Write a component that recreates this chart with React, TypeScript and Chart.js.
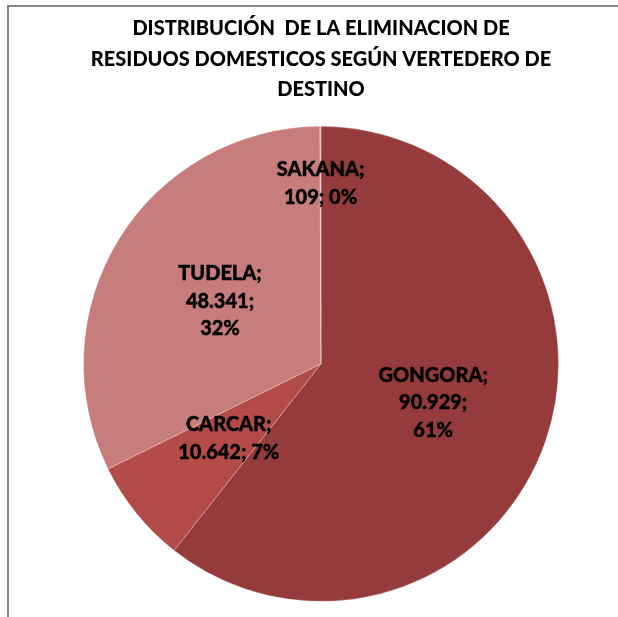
import React, { useEffect, useRef } from "react";
import { Chart, registerables } from "chart.js";

Chart.register(...registerables);

const TITLE_LINES = [
  "DISTRIBUCIÓN  DE LA ELIMINACION DE",
  "RESIDUOS DOMESTICOS SEGÚN VERTEDERO DE",
  "DESTINO",
];
const CATEGORIES = ["GONGORA", "CARCAR", "TUDELA", "SAKANA"];
const VALUES = [90929, 10642, 48341, 109];
const COLORS = ["#963B3B", "#B34B48", "#C77D7C", "#DDB1B0"];

const FONT = "Lato, 'Open Sans', sans-serif";

function fmtThousands(v: number): string {
  return String(v).replace(/\B(?=(\d{3})+(?!\d))/g, ".");
}

const labelPlugin = {
  id: "pieLabels",
  afterDatasetsDraw(chart: any) {
    const ctx = chart.ctx;
    const meta = chart.getDatasetMeta(0);
    const data = chart.data.datasets[0].data as number[];
    const total = data.reduce((a, b) => a + b, 0);
    ctx.save();
    ctx.font = `900 20px ${FONT}`;
    ctx.fillStyle = "#000";
    ctx.strokeStyle = "#000";
    ctx.lineWidth = 0.4;
    ctx.textAlign = "center";
    ctx.textBaseline = "middle";
    const lineH = 27.5;
    const wrapW = 110;
    meta.data.forEach((arc: any, i: number) => {
      const { x, y, startAngle, endAngle, outerRadius } = arc.getProps(
        ["x", "y", "startAngle", "endAngle", "outerRadius"],
        true
      );
      const share = data[i] / total;
      const frac = share < 0.01 ? 0.76 : 0.5;
      const mid = (startAngle + endAngle) / 2;
      const cx = x + Math.cos(mid) * outerRadius * frac;
      const cy = y + Math.sin(mid) * outerRadius * frac;
      const tokens = [
        `${chart.data.labels[i]};`,
        `${fmtThousands(data[i])};`,
        `${Math.round(share * 100)}%`,
      ];
      const lines: string[] = [];
      let cur = "";
      tokens.forEach((t) => {
        const test = cur ? cur + " " + t : t;
        if (cur && ctx.measureText(test).width > wrapW) {
          lines.push(cur);
          cur = t;
        } else {
          cur = test;
        }
      });
      if (cur) lines.push(cur);
      const startY = cy - ((lines.length - 1) * lineH) / 2;
      lines.forEach((l, k) => {
        ctx.fillText(l, cx, startY + k * lineH);
        ctx.strokeText(l, cx, startY + k * lineH);
      });
    });
    ctx.restore();
  },
};

export default function App() {
  const ref = useRef<HTMLCanvasElement | null>(null);
  useEffect(() => {
    if (!ref.current) return;
    const chart = new Chart(ref.current, {
      type: "pie",
      data: {
        labels: CATEGORIES,
        datasets: [
          {
            data: VALUES,
            backgroundColor: COLORS,
            borderColor: "rgba(255,255,255,0.25)",
            borderWidth: 1,
            hoverOffset: 0,
          },
        ],
      },
      options: {
        responsive: false,
        animation: false,
        layout: { padding: { left: 83, right: 59, top: 0, bottom: 15 } },
        plugins: {
          legend: { display: false },
          tooltip: { enabled: false },
          title: {
            display: true,
            text: TITLE_LINES,
            color: "#000",
            font: { family: FONT, size: 20, weight: "900", lineHeight: 1.52 },
            padding: { top: 13.5, bottom: 21 },
          },
        },
      },
      plugins: [labelPlugin],
    });
    return () => chart.destroy();
  }, []);
  return (
    <div style={{ position: "fixed", left: 0, top: 0, width: 618, height: 617, overflow: "hidden", background: "#fff" }}>
      <div
        style={{
          position: "absolute",
          left: 7,
          top: 5,
          width: 700,
          height: 700,
          borderTop: "2px solid #878787",
          borderLeft: "2px solid #878787",
        }}
      />
      <canvas ref={ref} width={618} height={617} style={{ position: "absolute", left: 0, top: 0 }} />
    </div>
  );
}
